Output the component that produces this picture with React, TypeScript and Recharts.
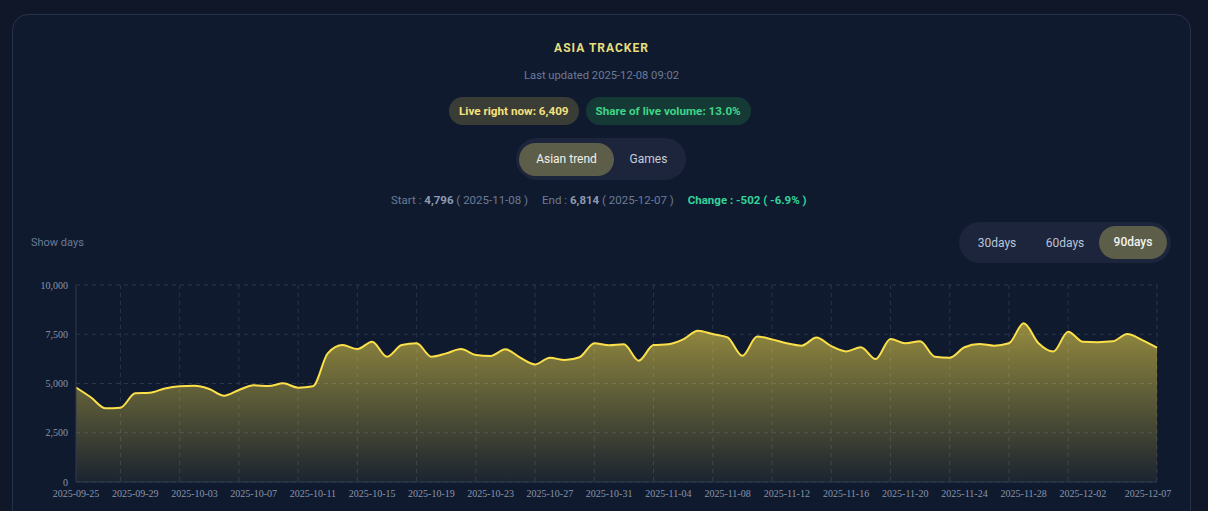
import React from "react";
import {
    AreaChart,
    Area,
    XAxis,
    YAxis,
    CartesianGrid,
} from "recharts";

const dates = [
    "2025-09-25", "2025-09-26", "2025-09-27", "2025-09-28", "2025-09-29", "2025-09-30",
    "2025-10-01", "2025-10-02", "2025-10-03", "2025-10-04", "2025-10-05", "2025-10-06",
    "2025-10-07", "2025-10-08", "2025-10-09", "2025-10-10", "2025-10-11", "2025-10-12",
    "2025-10-13", "2025-10-14", "2025-10-15", "2025-10-16", "2025-10-17", "2025-10-18",
    "2025-10-19", "2025-10-20", "2025-10-21", "2025-10-22", "2025-10-23", "2025-10-24",
    "2025-10-25", "2025-10-26", "2025-10-27", "2025-10-28", "2025-10-29", "2025-10-30",
    "2025-10-31", "2025-11-01", "2025-11-02", "2025-11-03", "2025-11-04", "2025-11-05",
    "2025-11-06", "2025-11-07", "2025-11-08", "2025-11-09", "2025-11-10", "2025-11-11",
    "2025-11-12", "2025-11-13", "2025-11-14", "2025-11-15", "2025-11-16", "2025-11-17",
    "2025-11-18", "2025-11-19", "2025-11-20", "2025-11-21", "2025-11-22", "2025-11-23",
    "2025-11-24", "2025-11-25", "2025-11-26", "2025-11-27", "2025-11-28", "2025-11-29",
    "2025-11-30", "2025-12-01", "2025-12-02", "2025-12-03", "2025-12-04", "2025-12-05",
    "2025-12-06", "2025-12-07",
];

const asianTrend = [
    4796, 4300, 3740, 3770, 4500, 4530, 4750, 4860, 4880, 4720, 4380, 4670,
    4910, 4870, 5010, 4790, 4860, 6530, 6950, 6750, 7120, 6360, 6950, 7040,
    6360, 6530, 6750, 6450, 6400, 6735, 6310, 5970, 6310, 6190, 6330, 7040,
    6940, 6990, 6160, 6950, 6990, 7240, 7680, 7510, 7340, 6410, 7380, 7240,
    7040, 6920, 7330, 6900, 6630, 6840, 6240, 7260, 7040, 7140, 6360, 6310,
    6840, 7005, 6920, 7040, 8055, 7040, 6620, 7630, 7120, 7100, 7140, 7510,
    7200, 6814,
];

const labelTicks = [
    "2025-09-25", "2025-09-29", "2025-10-03", "2025-10-07", "2025-10-11",
    "2025-10-15", "2025-10-19", "2025-10-23", "2025-10-27", "2025-10-31",
    "2025-11-04", "2025-11-08", "2025-11-12", "2025-11-16", "2025-11-20",
    "2025-11-24", "2025-11-28", "2025-12-02", "2025-12-07",
];

// the vertical grid lines sit one day before each label
const gridTicks = [
    "2025-09-28", "2025-10-02", "2025-10-06", "2025-10-10", "2025-10-14",
    "2025-10-18", "2025-10-22", "2025-10-26", "2025-10-30", "2025-11-03",
    "2025-11-07", "2025-11-11", "2025-11-15", "2025-11-19", "2025-11-23",
    "2025-11-27", "2025-12-01", "2025-12-07",
];

const yTicks = [0, 2500, 5000, 7500, 10000];

const sans = "Roboto, 'Noto Sans', sans-serif";
const serif = "'Liberation Serif', 'DejaVu Serif', serif";

function DateTick(props: any) {
    const { x, y, payload } = props;
    const last = payload.value === labelTicks[labelTicks.length - 1];
    return (
        <text
            x={x + (last ? -9 : 0)}
            y={y}
            dy="0.71em"
            textAnchor="middle"
            fill="#8a95ab"
            fontSize={10}
            fontFamily={serif}
        >
            {payload.value}
        </text>
    );
}

// point positions of the grid dates inside the plot area
function gridX({ offset }: any) {
    if (!offset) return [];
    const step = offset.width / (dates.length - 1);
    return gridTicks.map((d) => offset.left + dates.indexOf(d) * step);
}

function Pill({ text, bg, color }: { text: string; bg: string; color: string }) {
    return (
        <div
            style={{
                height: 28,
                lineHeight: "28px",
                padding: "0 10px",
                borderRadius: 14,
                background: bg,
                color,
                fontWeight: 700,
                fontSize: 11.7,
            }}
        >
            {text}
        </div>
    );
}

export default function App() {
    const chartData = dates.map((d, i) => ({ date: d, value: asianTrend[i] }));

    return (
        <div
            style={{
                position: "absolute",
                left: 0,
                top: 0,
                width: 1208,
                height: 511,
                overflow: "hidden",
                background: "#0f1729",
                fontFamily: sans,
            }}
        >
            <div
                style={{
                    position: "absolute",
                    left: 12,
                    top: 14,
                    width: 1177,
                    height: 530,
                    border: "1px solid #27314a",
                    borderRadius: 16,
                    background: "#101a2e",
                }}
            />

            {/* header */}
            <div
                style={{
                    position: "absolute",
                    left: 0,
                    width: 1203,
                    top: 41,
                    textAlign: "center",
                    color: "#e6df7c",
                    fontSize: 12,
                    fontWeight: 700,
                    letterSpacing: 1,
                }}
            >
                ASIA TRACKER
            </div>
            <div
                style={{
                    position: "absolute",
                    left: 0,
                    width: 1203,
                    top: 69,
                    textAlign: "center",
                    color: "#6b7a98",
                    fontSize: 11.2,
                }}
            >
                Last updated 2025-12-08 09:02
            </div>

            <div
                style={{
                    position: "absolute",
                    left: 449,
                    top: 97,
                    display: "flex",
                    gap: 7,
                }}
            >
                <Pill text="Live right now: 6,409" bg="#3a3d36" color="#f7e07e" />
                <Pill text="Share of live volume: 13.0%" bg="#153a36" color="#3fd486" />
            </div>

            <div
                style={{
                    position: "absolute",
                    left: 516,
                    top: 138,
                    width: 170,
                    height: 42,
                    borderRadius: 21,
                    background: "#1c253b",
                    display: "flex",
                    alignItems: "center",
                    padding: "0 3px",
                    boxSizing: "border-box",
                    fontSize: 12,
                }}
            >
                <div
                    style={{
                        width: 95,
                        height: 33,
                        lineHeight: "33px",
                        textAlign: "center",
                        borderRadius: 17,
                        background: "#5c5e4a",
                        color: "#f2f2ec",
                    }}
                >
                    Asian trend
                </div>
                <div style={{ flex: 1, textAlign: "center", color: "#c5cddc" }}>
                    Games
                </div>
            </div>

            <div
                style={{
                    position: "absolute",
                    left: 391,
                    top: 193,
                    fontSize: 11.5,
                    color: "#6b7a98",
                    whiteSpace: "pre",
                    display: "flex",
                    gap: 14,
                }}
            >
                <span>
                    Start : <b style={{ color: "#8e9ab2" }}>4,796</b> ( 2025-11-08 )
                </span>
                <span>
                    End : <b style={{ color: "#8e9ab2" }}>6,814</b> ( 2025-12-07 )
                </span>
                <b style={{ color: "#34d399" }}>Change : -502 ( -6.9% )</b>
            </div>

            <div
                style={{
                    position: "absolute",
                    left: 31,
                    top: 236,
                    fontSize: 11,
                    color: "#6b7a98",
                }}
            >
                Show days
            </div>

            <div
                style={{
                    position: "absolute",
                    left: 959,
                    top: 222,
                    width: 212,
                    height: 41,
                    borderRadius: 21,
                    background: "#1c253b",
                    display: "flex",
                    alignItems: "center",
                    padding: "0 4px",
                    boxSizing: "border-box",
                    fontSize: 12,
                }}
            >
                <div style={{ width: 68, textAlign: "center", color: "#b8c4da" }}>30days</div>
                <div style={{ width: 68, textAlign: "center", color: "#b8c4da" }}>60days</div>
                <div
                    style={{
                        width: 68,
                        height: 33,
                        lineHeight: "33px",
                        textAlign: "center",
                        borderRadius: 17,
                        background: "#5c5e4a",
                        color: "#f2f2ec",
                        fontWeight: 500,
                    }}
                >
                    90days
                </div>
            </div>

            {/* chart */}
            <div style={{ position: "absolute", left: 12, top: 275 }}>
                <AreaChart
                    width={1170}
                    height={240}
                    data={chartData}
                    margin={{ top: 10, right: 25, left: 4, bottom: 3 }}
                >
                    <defs>
                        <linearGradient id="asiaFill" x1="0" y1="0" x2="0" y2="1">
                            <stop offset="0%" stopColor="#f4dc4a" stopOpacity={0.58} />
                            <stop offset="100%" stopColor="#f4dc4a" stopOpacity={0.05} />
                        </linearGradient>
                    </defs>
                    <CartesianGrid
                        strokeDasharray="4 4"
                        stroke="#2a354d"
                        verticalCoordinatesGenerator={gridX}
                    />
                    <XAxis
                        dataKey="date"
                        ticks={labelTicks}
                        interval={0}
                        tick={<DateTick />}
                        tickLine={false}
                        axisLine={{ stroke: "#2f3a52" }}
                        height={30}
                    />
                    <YAxis
                        width={60}
                        domain={[0, 10000]}
                        ticks={yTicks}
                        tickFormatter={(v: number) => v.toLocaleString("en-US")}
                        tick={{ fill: "#8a95ab", fontSize: 10, fontFamily: serif }}
                        tickLine={false}
                        axisLine={{ stroke: "#2f3a52" }}
                    />
                    <Area
                        type="monotone"
                        dataKey="value"
                        stroke="#fbe04a"
                        strokeWidth={2}
                        fill="url(#asiaFill)"
                        fillOpacity={1}
                        isAnimationActive={false}
                        dot={false}
                        activeDot={false}
                    />
                </AreaChart>
            </div>
        </div>
    );
}
